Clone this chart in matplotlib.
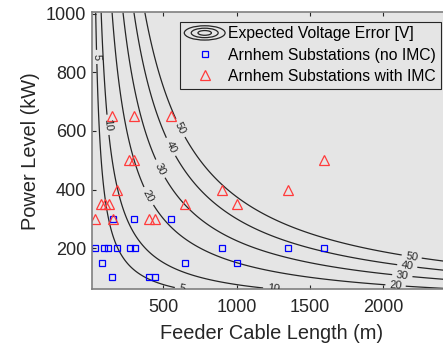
import numpy as np
import matplotlib
matplotlib.use("Agg")
import matplotlib.pyplot as plt
from matplotlib.legend_handler import HandlerBase
from matplotlib.patches import Ellipse

plt.rcParams['font.family'] = ['Liberation Sans', 'DejaVu Sans']

# substations without IMC (cable length m, power kW)
no_imc_len = [35, 80, 95, 120, 150, 155, 180, 275, 305, 300, 400, 440, 550, 650, 900, 1000, 1350, 1600]
no_imc_kw = [200, 150, 200, 200, 100, 300, 200, 200, 200, 300, 100, 100, 300, 150, 200, 150, 200, 200]

# substations with IMC
imc_len = [35, 75, 100, 125, 155, 180, 150, 300, 550, 265, 300, 400, 445, 650, 900, 1000, 1350, 1600]
imc_kw = [300, 350, 350, 350, 300, 400, 650, 650, 650, 500, 500, 300, 300, 350, 400, 350, 400, 500]

# expected voltage error contours [V]
levels = [5, 10, 20, 30, 40, 50]
volt_per_m_kw = 1 / 7500.0
label_pos = [(34, 853), (650, 54), (118, 621), (1305, 54), (400, 378), (2085, 69),
             (486, 473), (2131, 103), (559, 548), (2165, 138), (615, 610), (2196, 172)]

xticks = [500, 1000, 1500, 2000]
yticks = [200, 400, 600, 800, 1000]


class ContourIcon(object):
    pass


class ContourHandler(HandlerBase):
    def create_artists(self, legend, orig_handle, xdescent, ydescent, width, height, fontsize, trans):
        cx = width / 2 - xdescent
        cy = height / 2 - ydescent
        arts = []
        for s in [1.0, 0.66, 0.33]:
            e = Ellipse((cx, cy), width * s, height * 1.3 * s, fill=False,
                        edgecolor='#262626', lw=0.9, transform=trans)
            arts.append(e)
        return arts


fig = plt.figure(figsize=(4.43, 3.5), dpi=100)
ax = fig.add_axes([0.207, 0.1743, 0.813, 0.79])
ax.set_facecolor('#e5e5e5')

xx = np.linspace(10, 2470, 500)
yy = np.linspace(60, 1005, 400)
X, Y = np.meshgrid(xx, yy)
Z = X * Y * volt_per_m_kw

cs = ax.contour(X, Y, Z, levels=levels, colors='#262626', linewidths=0.9)
ax.clabel(cs, fmt='%d', fontsize=8, inline=True, manual=label_pos, inline_spacing=4)

h1, = ax.plot(no_imc_len, no_imc_kw, 's', ms=4.5, mfc='none', mec='#0000ff', mew=0.9, ls='none')
h2, = ax.plot(imc_len, imc_kw, '^', ms=7.5, mfc='none', mec='#ff3b3b', mew=0.9, ls='none')

ax.set_xlim(10, 2470)
ax.set_ylim(60, 1005)
ax.set_xticks(xticks)
ax.set_yticks(yticks)
ax.tick_params(direction='in', length=3, width=0.8, top=True, right=True,
               labelsize=13, colors='#262626')
ax.tick_params(axis='x', pad=7)
ax.tick_params(axis='y', pad=4)
for s in ax.spines.values():
    s.set_color('#7f7f7f')
    s.set_linewidth(1.2)

ax.set_xlabel('Feeder Cable Length (m)', fontsize=14.4, color='#262626', labelpad=6)
ax.set_ylabel('Power Level (kW)', fontsize=14.4, color='#262626', labelpad=4)

leg = ax.legend([ContourIcon(), h1, h2],
                ['Expected Voltage Error [V]', 'Arnhem Substations (no IMC)', 'Arnhem Substations with IMC'],
                handler_map={ContourIcon: ContourHandler()},
                loc='upper right', bbox_to_anchor=(440.7 / 443, 1 - 21.7 / 350),
                bbox_transform=fig.transFigure, borderaxespad=0, fontsize=11.3,
                fancybox=False, framealpha=1, facecolor='#e5e5e5', edgecolor='#262626',
                handlelength=2.6, handletextpad=0.2, labelspacing=0.4, borderpad=0.3)
leg.get_frame().set_linewidth(0.8)

fig.savefig('out.png', dpi=100)
